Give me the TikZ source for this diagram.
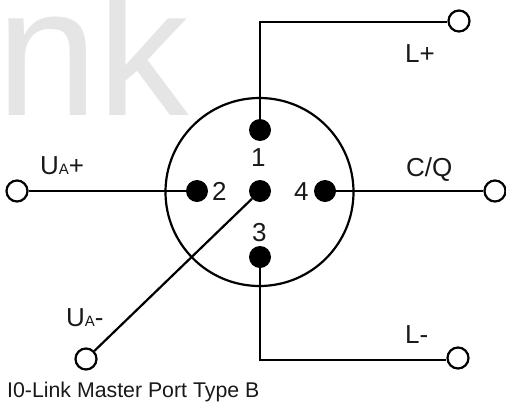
\documentclass[tikz,border=0pt]{standalone}
\usepackage{fontspec}
\setmainfont{Liberation Sans}
\tikzset{
  pin/.style={circle,fill=black,draw=none,minimum size=22pt,inner sep=0pt},
  terminal/.style={circle,draw=black,line width=2.2pt,fill=white,minimum size=21pt,inner sep=0pt},
  wire/.style={draw=black,line width=2.2pt},
  lbl/.style={inner sep=0pt,font=\fontsize{26}{26}\selectfont,text=black!90,anchor=base west}
}
\newcommand{\smallA}{{\fontsize{15}{15}\selectfont A}}
\begin{document}
\begin{tikzpicture}[x=1pt,y=-1pt]
\useasboundingbox (0,0) rectangle (506,402);
\fill[white] (0,0) rectangle (506,402);
\begin{scope}
\clip (0,0) rectangle (506,402);
\node[anchor=base west,inner sep=0pt,text=black!10,font=\fontsize{183}{183}\selectfont] (wm) at (-4,115) {nk};
\end{scope}
\node[circle,draw=black,line width=2.2pt,minimum size=188pt,inner sep=0pt] (body) at (259.5,192) {};
\node[pin] (p1) at (260,130) {};
\node[pin] (p2) at (197,191) {};
\node[pin] (p0) at (260,191) {};
\node[pin] (p4) at (325,191) {};
\node[pin] (p3) at (260,257) {};
\node[terminal] (tlp) at (459,21) {};
\node[terminal] (tua) at (17,191) {};
\node[terminal] (tcq) at (495,191) {};
\node[terminal] (tum) at (86,359) {};
\node[terminal] (tlm) at (458,358) {};
\coordinate (ctop) at (260,22);
\coordinate (cbot) at (260,360);
\draw[wire] (p1) -- (ctop) -- (tlp.west |- ctop);
\draw[wire] (p3) -- (cbot) -- (tlm.west |- cbot);
\draw[wire] (tua) -- (p2);
\draw[wire] (p4) -- (tcq);
\draw[wire] (p0) -- (tum);
\node[lbl] (n1) at (251,166) {1};
\node[lbl] (n2) at (212,200) {2};
\node[lbl] (n4) at (294,200) {4};
\node[lbl] (n3) at (252,241) {3};
\node[lbl] (llp) at (405,62) {L+};
\node[lbl] (lcq) at (406,176) {C/Q};
\node[lbl] (llm) at (405,343) {L-};
\node[lbl] (lup) at (40,174) {U\smallA+};
\node[lbl] (lum) at (66,326) {U\smallA-};
\node[inner sep=0pt,anchor=base west,text=black!90,font=\fontsize{21.3}{21.3}\selectfont] (cap) at (7,397) {I0-Link Master Port Type B};
\end{tikzpicture}
\end{document}
